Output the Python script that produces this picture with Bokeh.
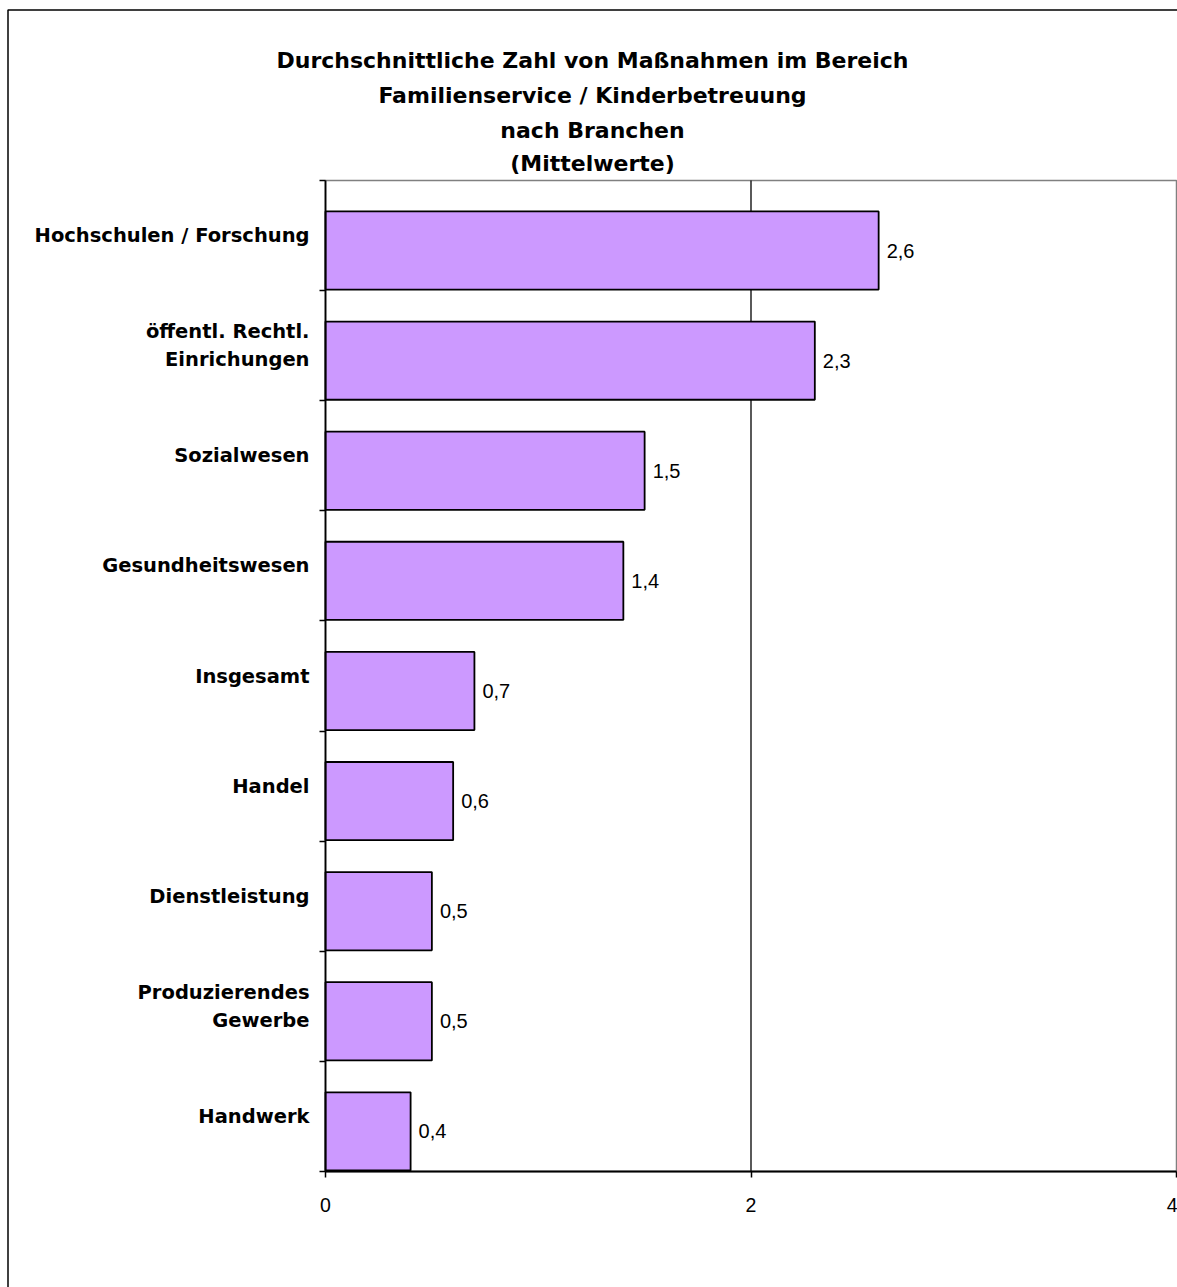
from bokeh.plotting import figure
from bokeh.models import FixedTicker, Range1d
from bokeh.embed import file_html
from bokeh.resources import INLINE
from bokeh.core.properties import value

# ---- data ----
categories = [
    "Hochschulen / Forschung",
    "öffentl. Rechtl.\nEinrichungen",
    "Sozialwesen",
    "Gesundheitswesen",
    "Insgesamt",
    "Handel",
    "Dienstleistung",
    "Produzierendes\nGewerbe",
    "Handwerk",
]
values = [2.6, 2.3, 1.5, 1.4, 0.7, 0.6, 0.5, 0.5, 0.4]
x_ticks = [0, 2, 4]
title_lines = [
    "Durchschnittliche Zahl von Maßnahmen im Bereich",
    "Familienservice / Kinderbetreuung",
    "nach Branchen",
    "(Mittelwerte)",
]

value_labels = [f"{v:.1f}".replace(".", ",") for v in values]
n = len(categories)
centers = [n - i - 0.5 for i in range(n)]
boundaries = list(range(n + 1))
bar_y = [c - 0.136 for c in centers]
x_max = x_ticks[-1]

# ---- layout (pixels) ----
W, H = 1177, 1287
L, T, R, B = 325, 180, 1176, 1171          # plot area inside the canvas
BOLD_FONT = "DejaVu Sans"
REG_FONT = "Liberation Sans"

sx = (R - L) / x_max
sy = (B - T) / n
x_range = Range1d(-L / sx, x_max + (W - R) / sx)
y_range = Range1d(-(H - B) / sy, n + T / sy)

p = figure(width=W, height=H, x_range=x_range, y_range=y_range,
           output_backend="svg", toolbar_location=None, title=None,
           min_border=0, min_border_left=0, min_border_right=0,
           min_border_top=0, min_border_bottom=0)
p.extra_x_ranges = {"px": Range1d(0, W)}
p.extra_y_ranges = {"px": Range1d(H, 0)}
p.background_fill_color = "white"
p.border_fill_color = "white"
p.outline_line_color = None
p.xgrid.visible = False
p.ygrid.visible = False

# plot area border (grey)
p.quad(left=0, right=x_max, bottom=0, top=n, fill_color=None,
       line_color="#808080", line_width=1.5)
# vertical grid line at the middle tick
p.segment(x0=[x_ticks[1]], y0=[0], x1=[x_ticks[1]], y1=[n],
          line_color="black", line_width=1.3)

# bars + value labels
p.hbar(y=bar_y, left=0, right=values, height=0.71, fill_color="#CC99FF",
       line_color="black", line_width=1.8)
p.text(x=values, y=bar_y, text=value_labels, x_offset=8, text_align="left",
       text_baseline="middle", text_font=value(REG_FONT), text_font_size="20px",
       text_color="black")

# x axis
xa = p.xaxis[0]
xa.fixed_location = 0
xa.bounds = (0, x_max)
xa.ticker = FixedTicker(ticks=x_ticks, minor_ticks=[])
xa.axis_line_color = "black"
xa.axis_line_width = 1.8
xa.major_tick_line_color = "black"
xa.major_tick_line_width = 1.5
xa.major_tick_out = 6
xa.major_tick_in = 0
xa.minor_tick_line_color = None
xa.major_label_text_font = REG_FONT
xa.major_label_text_font_size = "19.5px"
xa.major_label_text_color = "black"
xa.major_label_standoff = 20

# y axis
ya = p.yaxis[0]
ya.fixed_location = 0
ya.bounds = (0, n)
ya.ticker = FixedTicker(ticks=centers, minor_ticks=boundaries)
ya.major_label_overrides = {c: lab for c, lab in zip(centers, categories)}
ya.axis_line_color = "black"
ya.axis_line_width = 1.8
ya.major_tick_line_color = None
ya.major_tick_out = 0
ya.major_tick_in = 0
ya.minor_tick_line_color = "black"
ya.minor_tick_line_width = 1.5
ya.minor_tick_out = 6
ya.minor_tick_in = 0
ya.major_label_text_font = BOLD_FONT
ya.major_label_text_font_style = "bold"
ya.major_label_text_font_size = "19.5px"
ya.major_label_text_color = "black"
ya.major_label_text_line_height = 1.23
ya.major_label_standoff = 10

# title (pixel coordinates)
title_center_x = 592
baselines = [60, 95, 129.5, 163]
p.text(x=[title_center_x] * len(title_lines), y=baselines, text=title_lines,
       x_range_name="px", y_range_name="px", text_align="center",
       text_baseline="alphabetic", text_font=value(BOLD_FONT),
       text_font_style="bold", text_font_size="22px", text_color="black")

# outer chart border (left and top edges; rest lies past the window)
p.line(x=[7.5, 7.5, W + 50], y=[H + 50, 9.5, 9.5], x_range_name="px",
       y_range_name="px", line_color="black", line_width=1.5)

open("out.html", "w").write(file_html(p, INLINE))
